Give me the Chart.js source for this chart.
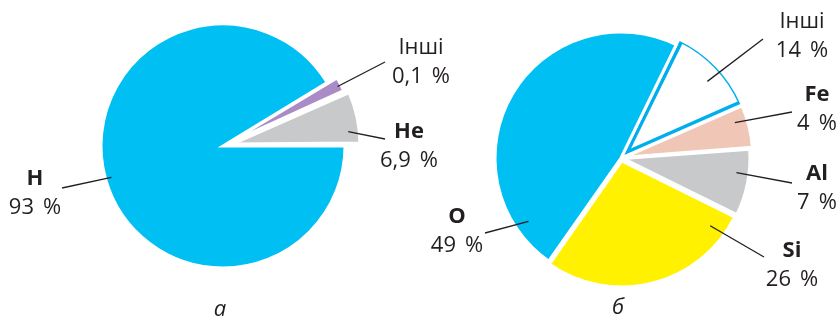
<!DOCTYPE html>
<html>
<head>
<meta charset="utf-8">
<script src="https://cdn.jsdelivr.net/npm/chart.js@4.4.1/dist/chart.umd.min.js"></script>
<style>
  body { margin: 0; background: #fff; }
  #wrap { position: relative; width: 839px; height: 316px; }
  #wrap canvas { position: absolute; left: 0; top: 0; }
</style>
</head>
<body>
<div id="wrap">
  <canvas id="left" width="839" height="316"></canvas>
  <canvas id="right" width="839" height="316"></canvas>
</div>
<script>
// а) — Sun composition
const leftNames = ['H', 'Інші', 'He'];
const leftPercents = ['93', '0,1', '6,9'];
// slice sizes as drawn in the picture (the 0,1 % wedge is drawn wider than scale)
const leftShares = [91.3, 2.0, 6.7];
const leftColors = ['#00bff3', '#a98bc6', '#c8c9cb'];

// б) — Earth's crust composition
const rightNames = ['Інші', 'Fe', 'Al', 'Si', 'O'];
const rightPercents = ['14', '4', '7', '26', '49'];
const rightShares = [11.2, 5.4, 8.5, 27.4, 47.5];
const rightColors = ['#ffffff', '#f0c6b6', '#c8c9cb', '#fff100', '#00bff3'];

const ink = '#231f20';
const FONT = '"Open Sans", "Noto Sans", sans-serif';

// label layout: "at" = position across the slice, "r" = fraction of the radius,
// (dx, dy) = end of the leader line, (tx, ty) = label centre, both from the pie centre
const callouts = {
  id: 'callouts',
  afterDatasetsDraw(chart, args, opts) {
    const ctx = chart.ctx;
    const meta = chart.getDatasetMeta(0);
    meta.data.forEach((arc, i) => {
      const c = opts.items[i];
      const p = arc.getProps(['x', 'y', 'startAngle', 'endAngle', 'outerRadius'], true);
      const circ = p.endAngle - p.startAngle;
      const mid = (p.startAngle + p.endAngle) / 2;
      const shift = (arc.options.offset || 0) / 4 * (2 - Math.sin(Math.min(Math.PI, circ)));
      const a = p.startAngle + c.at * circ;
      const x0 = p.x + Math.cos(mid) * shift + Math.cos(a) * p.outerRadius * c.r;
      const y0 = p.y + Math.sin(mid) * shift + Math.sin(a) * p.outerRadius * c.r;

      ctx.save();
      ctx.strokeStyle = ink;
      ctx.lineWidth = 1.3;
      ctx.beginPath();
      ctx.moveTo(x0, y0);
      ctx.lineTo(p.x + c.dx, p.y + c.dy);
      ctx.stroke();

      const cx = p.x + c.tx;
      const cy = p.y + c.ty;
      ctx.fillStyle = ink;
      ctx.textBaseline = 'alphabetic';
      ctx.textAlign = 'center';
      ctx.font = (opts.names[i] === 'Інші' ? '' : 'bold ') + '22px ' + FONT;
      ctx.fillText(opts.names[i], cx, cy + 8);

      // number and % sign with the wide gap of the original
      ctx.font = '22px ' + FONT;
      ctx.textAlign = 'left';
      const num = opts.percents[i];
      const w1 = ctx.measureText(num).width;
      const w2 = ctx.measureText('%').width;
      const gap = 9;
      const x1 = cx - (w1 + gap + w2) / 2;
      ctx.fillText(num, x1, cy + 37);
      ctx.fillText('%', x1 + w1 + gap, cy + 37);
      ctx.restore();
    });

    const first = meta.data[0];
    ctx.save();
    ctx.fillStyle = ink;
    ctx.textAlign = 'center';
    ctx.font = 'italic 22px ' + FONT;
    ctx.fillText(opts.caption, first.x + opts.captionDx, first.y + opts.captionDy);
    ctx.restore();
  }
};

function pie(id, names, percents, shares, colors, cfg) {
  return new Chart(document.getElementById(id), {
    type: 'pie',
    data: {
      labels: names,
      datasets: [{
        data: shares,
        backgroundColor: colors,
        borderColor: cfg.borderColor,
        borderWidth: cfg.borderWidth,
        borderAlign: cfg.borderAlign,
        borderJoinStyle: 'miter',
        offset: cfg.offset
      }]
    },
    options: {
      responsive: false,
      animation: false,
      events: [],
      rotation: cfg.rotation,
      radius: cfg.radius,
      layout: { padding: cfg.padding },
      plugins: {
        legend: { display: false },
        tooltip: { enabled: false },
        callouts: {
          names: names,
          percents: percents,
          items: cfg.items,
          caption: cfg.caption,
          captionDx: cfg.captionDx,
          captionDy: cfg.captionDy
        }
      }
    },
    plugins: [callouts]
  });
}

pie('left', leftNames, leftPercents, leftShares, leftColors, {
  rotation: 90,
  radius: 122,
  padding: { left: 0, right: 393, top: 0, bottom: 24 },
  borderColor: '#ffffff',
  borderWidth: 3,
  borderAlign: 'center',
  offset: [0, 23, 38],
  caption: 'а', captionDx: -3, captionDy: 170,
  items: [
    { at: 0.50, r: 0.95, dx: -161, dy: 42, tx: -188, ty: 31 },
    { at: 0.54, r: 0.97, dx: 162, dy: -84, tx: 198, ty: -100 },
    { at: 0.76, r: 0.91, dx: 162, dy: -7, tx: 186, ty: -16 }
  ]
});

pie('right', rightNames, rightPercents, rightShares, rightColors, {
  rotation: 26,
  radius: 126,
  padding: { left: 403, right: 0, top: 0, bottom: 0 },
  borderColor: ['#00aeef', '#ffffff', '#ffffff', '#ffffff', '#ffffff'],
  borderWidth: [3, 3, 3, 3, 3],
  borderAlign: ['inner', 'center', 'center', 'center', 'center'],
  offset: [21, 14, 8, 12, 0],
  caption: 'б', captionDx: -3, captionDy: 156,
  items: [
    { at: 0.56, r: 0.86, dx: 142, dy: -119, tx: 181, ty: -138 },
    { at: 0.32, r: 0.90, dx: 171, dy: -46, tx: 196, ty: -65 },
    { at: 0.37, r: 0.90, dx: 171, dy: 25, tx: 196, ty: 14 },
    { at: 0.10, r: 0.87, dx: 143, dy: 99, tx: 171, ty: 91 },
    { at: 0.12, r: 0.89, dx: -136, dy: 75, tx: -164, ty: 57 }
  ]
});
</script>
</body>
</html>
